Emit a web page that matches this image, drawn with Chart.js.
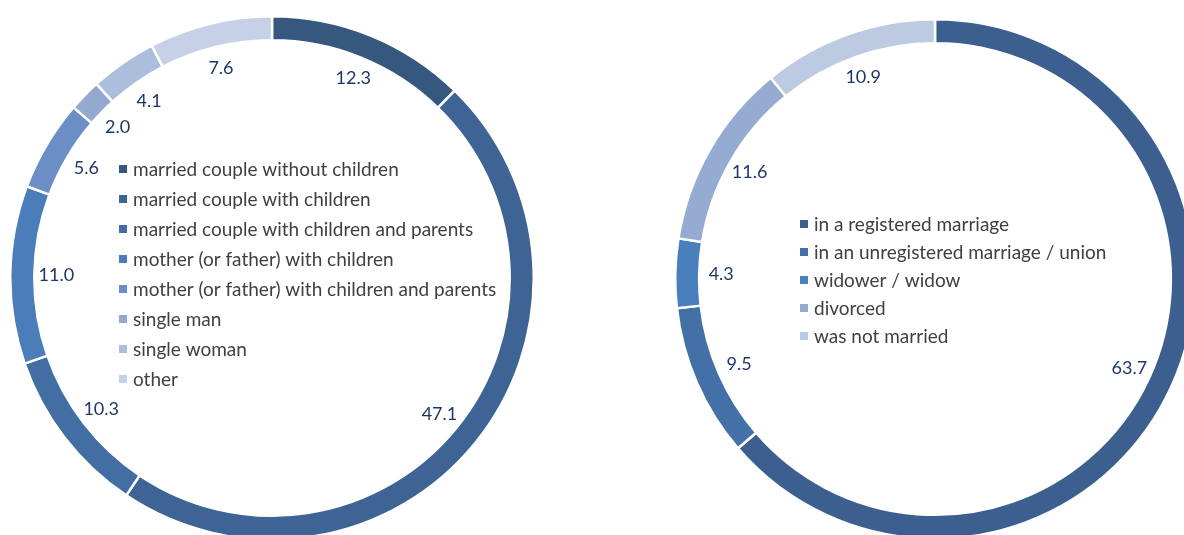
<!DOCTYPE html>
<html>
<head>
<meta charset="utf-8">
<script src="https://cdn.jsdelivr.net/npm/chart.js@4.4.0/dist/chart.umd.min.js"></script>
<style>
  html, body { margin: 0; padding: 0; background: #fff; overflow: hidden; width: 1184px; height: 535px; }
  .box { position: absolute; }
  #leftBox { left: 9px; top: 15px; width: 526px; height: 526px; }
  #rightBox { left: 674px; top: 18px; width: 522px; height: 522px; }
</style>
</head>
<body>
<div class="box" id="leftBox"><canvas id="householdChart" width="526" height="526"></canvas></div>
<div class="box" id="rightBox"><canvas id="maritalChart" width="522" height="522"></canvas></div>
<script>
const householdLabels = [
    'married couple without children',
    'married couple with children',
    'married couple with children and parents',
    'mother (or father) with children',
    'mother (or father) with children and parents',
    'single man',
    'single woman',
    'other'
];
const householdValues = [12.3, 47.1, 10.3, 11.0, 5.6, 2.0, 4.1, 7.6];
const householdColors = ['#36587f', '#3e6496', '#426ea3', '#4a7dba', '#6a8ec5', '#93a9d0', '#adbedd', '#c6d0e6'];

const maritalLabels = [
    'in a registered marriage',
    'in an unregistered marriage / union',
    'widower / widow',
    'divorced',
    'was not married'
];
const maritalValues = [63.7, 9.5, 4.3, 11.6, 10.9];
const maritalColors = ['#3c5f8f', '#4370a6', '#4a7fbd', '#95abd1', '#bccae2'];

const labelColor = '#1f3768';
const legendColor = '#404040';
const fontFamily = 'Lato, "Open Sans", sans-serif';

// values drawn inside the ring, a bit in from the inner edge
const valueLabels = {
    id: 'valueLabels',
    afterDatasetsDraw(chart) {
        const ctx = chart.ctx;
        const meta = chart.getDatasetMeta(0);
        const values = chart.data.datasets[0].data;
        ctx.save();
        ctx.font = '18px ' + fontFamily;
        ctx.fillStyle = labelColor;
        ctx.textAlign = 'center';
        ctx.textBaseline = 'middle';
        meta.data.forEach(function (arc, i) {
            const p = arc.getProps(['x', 'y', 'startAngle', 'endAngle', 'innerRadius'], true);
            const mid = (p.startAngle + p.endAngle) / 2;
            const r = p.innerRadius - 22;
            ctx.fillText(values[i].toFixed(1), p.x + Math.cos(mid) * r, p.y + Math.sin(mid) * r);
        });
        ctx.restore();
    }
};

// legend drawn in the hole of the doughnut
const holeLegend = {
    id: 'holeLegend',
    afterDraw(chart, args, opts) {
        const ctx = chart.ctx;
        const labels = chart.data.labels;
        const colors = chart.data.datasets[0].backgroundColor;
        ctx.save();
        ctx.font = opts.fontSize + 'px ' + fontFamily;
        ctx.textBaseline = 'middle';
        labels.forEach(function (text, i) {
            const y = opts.y + i * opts.rowHeight;
            ctx.fillStyle = colors[i];
            ctx.fillRect(opts.x, y - 4, 8, 8);
            ctx.fillStyle = legendColor;
            ctx.fillText(text, opts.x + 14, y + 1);
        });
        ctx.restore();
    }
};

function makeDoughnut(canvasId, labels, values, colors, legendOpts) {
    const ctx = document.getElementById(canvasId).getContext('2d');
    return new Chart(ctx, {
        type: 'doughnut',
        data: {
            labels: labels,
            datasets: [{
                data: values,
                backgroundColor: colors,
                borderColor: '#ffffff',
                borderWidth: 2.5
            }]
        },
        options: {
            responsive: false,
            animation: false,
            cutout: '90.8%',
            layout: { padding: 0 },
            plugins: {
                legend: { display: false },
                tooltip: { enabled: false },
                holeLegend: legendOpts
            }
        },
        plugins: [valueLabels, holeLegend]
    });
}

makeDoughnut('householdChart', householdLabels, householdValues, householdColors,
    { x: 110, y: 154, rowHeight: 30, fontSize: 19 });
makeDoughnut('maritalChart', maritalLabels, maritalValues, maritalColors,
    { x: 126, y: 206, rowHeight: 28, fontSize: 19 });
</script>
</body>
</html>
